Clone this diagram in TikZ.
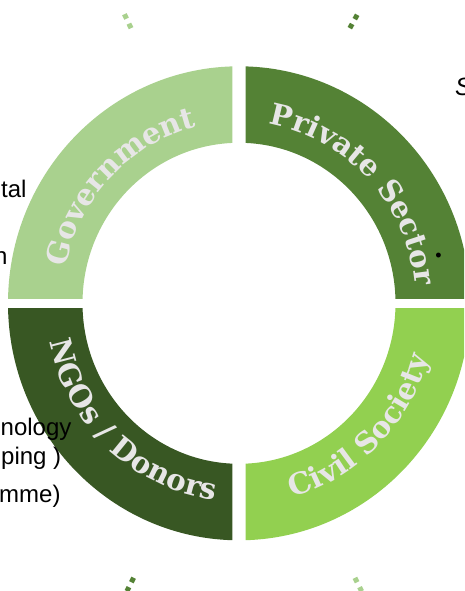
\documentclass[tikz,border=0pt]{standalone}
\usepackage{fontspec}
\setmainfont{Liberation Sans}
\newfontfamily\ringfont{DejaVu Serif}
\usepackage{tikz}
\usetikzlibrary{calc, decorations.text}

\definecolor{govgreen}{HTML}{A9D18E}
\definecolor{privgreen}{HTML}{548235}
\definecolor{ngogreen}{HTML}{385723}
\definecolor{civgreen}{HTML}{92D050}
\definecolor{labelgrey}{HTML}{E7E6E6}

\newcommand{\ringstyle}{\ringfont\bfseries\fontsize{29.5}{32}\selectfont}

\tikzset{
  ringlabel/.style={decorate, decoration={text along path, text align=center, text color=labelgrey}},
  sidetext/.style={inner sep=0pt, font=\fontsize{24}{28}\selectfont},
  dotline/.style={line width=5, dash pattern=on 5pt off 5.5pt},
}

\begin{document}
\begin{tikzpicture}[x=1pt, y=1pt]
  \useasboundingbox (0,0) rectangle (464,591);
  \clip (0,0) rectangle (464,591);
  \coordinate (hub) at (239,287.7);

  % four quarters of the ring, cut apart by the gaps
  \foreach \col/\xa/\ya/\xb/\yb in {govgreen/0/292.7/232.3/591, privgreen/245.7/292.7/464/591,
                                   ngogreen/0/0/232.3/282.7, civgreen/245.7/0/464/282.7} {
    \begin{scope}
      \clip (\xa,\ya) rectangle (\xb,\yb);
      \fill [\col, even odd rule] (hub) ellipse [x radius=231, y radius=237]
                                 (hub) ellipse [x radius=156.5, y radius=160.5];
    \end{scope}
  }

  \path [ringlabel, decoration={text={|\ringstyle|Government}}]
    ($(hub)+(178:177 and 181.6)$) arc [start angle=178, end angle=94, x radius=177, y radius=181.6];
  \path [ringlabel, decoration={text={|\ringstyle|Private Sector}}]
    ($(hub)+(86:177 and 181.6)$) arc [start angle=86, end angle=0, x radius=177, y radius=181.6];
  \path [ringlabel, decoration={text={|\ringstyle|NGOs / Donors}}]
    ($(hub)+(182:193 and 198)$) arc [start angle=182, end angle=272, x radius=193, y radius=198];
  \path [ringlabel, decoration={text={|\ringstyle|Civil Society}}]
    ($(hub)+(271:197 and 202)$) arc [start angle=271, end angle=359, x radius=197, y radius=202];

  % text running in from the page edges
  \node [sidetext, anchor=base west] (tal) at (1,393) {tal};
  \node [sidetext, anchor=base west] (n) at (-6,326) {n};
  \node [sidetext, anchor=base west] (nology) at (0.5,155) {nology};
  \node [sidetext, anchor=base west] (ping) at (1,126) {ping )};
  \node [sidetext, anchor=base west] (mme) at (-1,88) {mme)};
  \node [sidetext, anchor=base west, font=\fontsize{25}{28}\selectfont\itshape] (sright) at (455,495) {S};
  \node [inner sep=0pt, font=\fontsize{18}{20}\selectfont] (bullet) at (438.5,333.5) {•};

  % ends of dotted arrows
  \coordinate (gov a) at (124.4,576.8);  \coordinate (gov b) at (131.1,562.7);
  \coordinate (priv a) at (357.2,576.2); \coordinate (priv b) at (349.8,562.8);
  \coordinate (ngo a) at (133.6,13.2);   \coordinate (ngo b) at (126.9,-0.2);
  \coordinate (civ a) at (354.9,13.2);   \coordinate (civ b) at (361.6,-0.2);
  \draw [dotline, govgreen] (gov a) -- (gov b);
  \draw [dotline, privgreen] (priv a) -- (priv b);
  \draw [dotline, privgreen] (ngo a) -- (ngo b);
  \draw [dotline, govgreen] (civ a) -- (civ b);
\end{tikzpicture}
\end{document}
